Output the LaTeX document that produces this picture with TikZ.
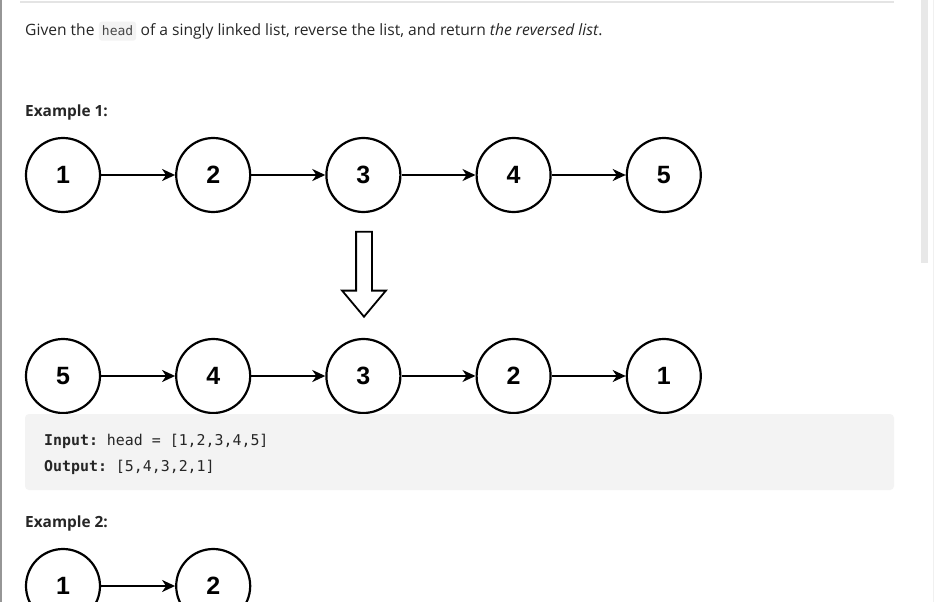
\documentclass[tikz,border=0pt]{standalone}
\usepackage{fontspec}
\setmainfont{Open Sans}
\setmonofont{DejaVu Sans Mono}
\newfontfamily\circfont{Liberation Sans}
\usetikzlibrary{arrows.meta, positioning, shapes.arrows}
\definecolor{cText}  {RGB}{38,38,38}
\definecolor{cCode}  {RGB}{243,243,243}
\definecolor{cRule}  {RGB}{228,228,228}
\definecolor{cEdge}  {RGB}{150,150,150}
\definecolor{cScroll}{RGB}{232,232,232}
\definecolor{cTrack} {RGB}{240,240,240}

\begin{document}
\begin{tikzpicture}[
  x=1pt, y=-1pt,
  font=\fontsize{15.6}{18}\selectfont,
  % ── page text
  para/.style={inner sep=0pt, anchor=base west, text=cText,
    font=\fontsize{15.6}{18}\selectfont},
  heading/.style={para, font=\bfseries\fontsize{15.4}{18}\selectfont},
  inlinecode/.style={anchor=base west, fill=cCode, rounded corners=3pt,
    inner xsep=3pt, inner ysep=4.5pt, text=cText!85,
    font=\ttfamily\fontsize{13}{15}\selectfont},
  codeline/.style={para, font=\ttfamily\fontsize{14.9}{17}\selectfont},
  % ── list nodes
  item/.style={circle, draw=black, line width=2.2pt, inner sep=0pt,
    minimum size=74pt, text=black,
    font=\circfont\bfseries\fontsize{25}{28}\selectfont},
  % ── arrows
  link/.style={-{Stealth[length=13pt, width=12pt, inset=4pt]},
    line width=2pt, draw=black},
  flipstyle/.style={single arrow, draw=black, line width=1.8pt, fill=white,
    rotate=-90, minimum height=85pt, inner xsep=0pt, inner ysep=7pt,
    single arrow head extend=14pt, single arrow tip angle=80},
]

\useasboundingbox (0,0) rectangle (937,602);
\clip (0,0) rectangle (937,602);
\fill[white] (0,0) rectangle (937,602);

%% ═════════════════════════════════════════════════════════════
%%  PAGE FRAME
%% ═════════════════════════════════════════════════════════════

\draw[cEdge, line width=1.5pt] (1,0) -- (1,602);
\draw[cRule, line width=1.5pt] (20,2) -- (894,2);
\fill[cScroll] (921,0) rectangle (928,263);
\draw[cTrack, line width=1pt] (933,0) -- (933,602);

%% ═════════════════════════════════════════════════════════════
%%  PROBLEM STATEMENT
%% ═════════════════════════════════════════════════════════════

\node[para] (given) at (25,36) {Given the};
\node[inlinecode, xshift=4pt] (headcode) at (given.base east) {head};
\node[para, xshift=4pt] (rest) at (headcode.base east)
  {of a singly linked list, reverse the list, and return \textit{the reversed list}.};

\node[heading] (ex1) at (25,116) {Example 1:};

%% ═════════════════════════════════════════════════════════════
%%  ROW 1 — input list
%% ═════════════════════════════════════════════════════════════

\node[item] (L1) at (63,175) {1};
\node[item, right=74pt of L1] (L2) {2};
\node[item, right=74pt of L2] (L3) {3};
\node[item, right=74pt of L3] (L4) {4};
\node[item, right=74pt of L4] (L5) {5};

\draw[link] (L1) -- (L2);
\draw[link] (L2) -- (L3);
\draw[link] (L3) -- (L4);
\draw[link] (L4) -- (L5);

%% ═════════════════════════════════════════════════════════════
%%  ROW 2 — reversed list
%% ═════════════════════════════════════════════════════════════

\node[item] (R5) at (63,376) {5};
\node[item, right=74pt of R5] (R4) {4};
\node[item, right=74pt of R4] (R3) {3};
\node[item, right=74pt of R3] (R2) {2};
\node[item, right=74pt of R2] (R1) {1};

\draw[link] (R5) -- (R4);
\draw[link] (R4) -- (R3);
\draw[link] (R3) -- (R2);
\draw[link] (R2) -- (R1);

% hollow arrow between the rows
\node[flipstyle] (flip) at (364,269.5) {};

%% ═════════════════════════════════════════════════════════════
%%  INPUT / OUTPUT BLOCK
%% ═════════════════════════════════════════════════════════════

\fill[cCode, rounded corners=4pt] (25,414) rectangle (894,490);
\node[codeline] (input)  at (44,445) {\textbf{Input:} head = [1,2,3,4,5]};
\node[codeline] (output) at (44,471) {\textbf{Output:} [5,4,3,2,1]};

%% ═════════════════════════════════════════════════════════════
%%  EXAMPLE 2
%% ═════════════════════════════════════════════════════════════

\node[heading] (ex2) at (25,527) {Example 2:};

\node[item] (M1) at (63,586) {1};
\node[item, right=74pt of M1] (M2) {2};
\draw[link] (M1) -- (M2);

\end{tikzpicture}
\end{document}
